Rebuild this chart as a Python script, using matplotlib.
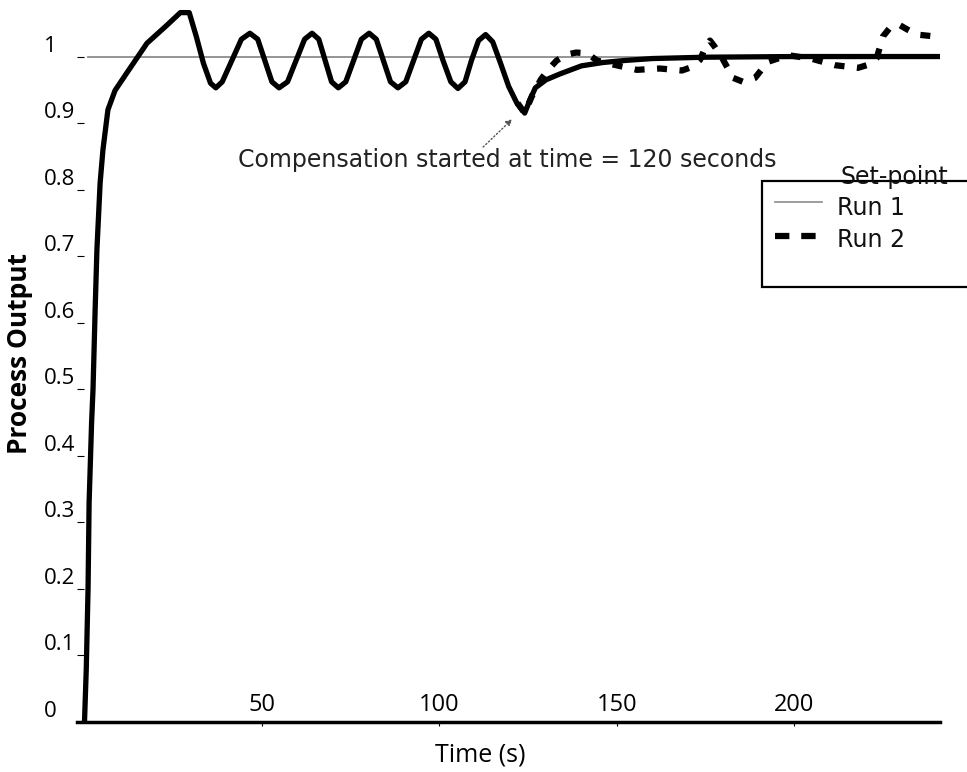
import numpy as np
import matplotlib.pyplot as plt
from matplotlib.lines import Line2D
from matplotlib.patches import Rectangle

# Run 1: uncompensated response, then compensation from t = 120 s
run1_t = [0, 0.5, 1.0, 1.3, 2.0, 2.4, 3.0, 3.5, 4.4, 5.2, 6.6, 8.6, 12.0, 17.6,
          23.2, 27.0, 29.5, 31.5, 33.5, 35.5, 37.0, 38.8, 41.5, 44.2, 46.6,
          48.8, 50.8, 52.8, 54.8, 57.2, 59.6, 62.0, 64.1, 66.0, 67.8, 69.6,
          71.5, 73.6, 75.8, 78.0, 80.2, 82.2, 84.2, 86.2, 88.3, 90.5, 92.7,
          94.9, 97.0, 99.0, 101.0, 103.2, 105.2, 107.2, 109.0, 111.0, 113.0,
          115.0, 117.2, 119.5, 121.8, 124.0, 125.5, 127.0, 130.0, 134.0,
          140.0, 146.0, 152.0, 160.0, 175.0, 200.0, 241.0]
run1_y = [0, 0.08, 0.20, 0.33, 0.45, 0.50, 0.62, 0.71, 0.81, 0.86, 0.92, 0.949,
          0.976, 1.020, 1.047, 1.066, 1.066, 1.030, 0.990, 0.960, 0.953, 0.962,
          0.994, 1.026, 1.035, 1.026, 0.994, 0.962, 0.953, 0.962, 0.994, 1.026,
          1.035, 1.026, 0.994, 0.962, 0.953, 0.962, 0.994, 1.026, 1.035, 1.026,
          0.994, 0.962, 0.953, 0.962, 0.994, 1.026, 1.035, 1.026, 0.994, 0.962,
          0.952, 0.962, 0.994, 1.024, 1.033, 1.022, 0.990, 0.955, 0.930, 0.915,
          0.935, 0.953, 0.965, 0.974, 0.986, 0.991, 0.994, 0.997, 0.999, 1.000,
          1.000]

# Run 2 only differs after compensation starts
run2_t = [122.0, 124.0, 126.0, 128.5, 130.6, 133.0, 135.9, 138.5, 141.5, 144.4,
          148.9, 155.6, 162.1, 168.3, 171.5, 173.4, 175.0, 176.2, 177.5, 179.6,
          182.7, 185.5, 188.9, 192.5, 198.2, 204.6, 211.4, 217.9, 221.0, 223.2,
          224.9, 227.0, 229.4, 232.0, 234.5, 239.9]
run2_y = [0.930, 0.915, 0.940, 0.965, 0.980, 0.994, 1.003, 1.006, 1.005, 0.994,
          0.988, 0.980, 0.982, 0.979, 0.985, 0.995, 1.015, 1.024, 1.015, 0.998,
          0.968, 0.962, 0.968, 0.992, 1.002, 0.997, 0.987, 0.983, 0.988, 0.998,
          1.030, 1.044, 1.048, 1.040, 1.033, 1.030]

setpoint = 1.0
comp_time = 120
y_ticks = [0, 0.1, 0.2, 0.3, 0.4, 0.5, 0.6, 0.7, 0.8, 0.9, 1.0]
y_tick_labels = ['0', '0.1', '0.2', '0.3', '0.4', '0.5', '0.6', '0.7', '0.8', '0.9', '1']
x_ticks = [50, 100, 150, 200]

W, H = 967, 772


def fx(px):
    return px / W


def fy(py):
    return 1 - py / H


def draw_legend(fig):
    """Hand-built legend box, clipped at the right edge like the scan"""
    fig.add_artist(Rectangle((fx(762), fy(287)), fx(260), fy(181) - fy(287),
                             transform=fig.transFigure, facecolor='white',
                             edgecolor='black', lw=1.6))
    fig.text(fx(840), fy(184), 'Set-point', fontsize=17, va='baseline',
             ha='left', color='#111')
    fig.add_artist(Line2D([fx(775), fx(822)], [fy(202), fy(202)],
                          transform=fig.transFigure, color='#8c8c8c', lw=1.2))
    fig.text(fx(837), fy(208), 'Run 1', fontsize=17, va='center', ha='left',
             color='#111')
    fig.add_artist(Line2D([fx(775), fx(818)], [fy(236), fy(236)],
                          transform=fig.transFigure, color='black', lw=4.5,
                          dashes=(2.3, 1.9)))
    fig.text(fx(837), fy(240), 'Run 2', fontsize=17, va='center', ha='left',
             color='#111')


fig = plt.figure(figsize=(W / 100, H / 100), dpi=100)
ax = fig.add_axes([fx(77.4), 50 / H, 862.6 / W, 718.7 / H])

ax.axhline(setpoint, xmin=0.012, color='#8c8c8c', lw=1.3, zorder=1)
ax.plot(run1_t, run1_y, color='black', lw=3.8, solid_joinstyle='round',
        solid_capstyle='round', zorder=3)
ax.plot(run2_t, run2_y, color='black', lw=4.5, dashes=(1.6, 2.0), zorder=2)

ax.text(119.0, 0.844, 'Compensation started at time = 120 seconds',
        fontsize=17, ha='center', va='center', color='#222')
ax.annotate('', xy=(comp_time + 0.5, 0.906), xytext=(112.3, 0.864),
            arrowprops=dict(arrowstyle='-|>', linestyle=':', lw=1.0,
                            color='#555', mutation_scale=9, shrinkA=0,
                            shrinkB=0))

ax.set_xlim(-2, 241)
ax.set_ylim(0, 1.08)
for side in ['top', 'right', 'left']:
    ax.spines[side].set_visible(False)
ax.spines['bottom'].set_linewidth(2.5)

ax.set_xticks(x_ticks)
ax.set_xticklabels([str(t) for t in x_ticks], fontfamily='Open Sans',
                   fontsize=17)
ax.tick_params(axis='x', direction='out', length=3, width=0.8, pad=-24)

ax.set_yticks(y_ticks)
ax.set_yticklabels(y_tick_labels, fontfamily='Open Sans', fontsize=16)
ax.tick_params(axis='y', direction='in', length=5, width=0.8, pad=24)
plt.setp(ax.get_yticklabels(), ha='left', va='bottom')

ax.set_xlabel('Time (s)', fontfamily='Open Sans', fontsize=18)
ax.xaxis.set_label_coords(0.467, -0.029)
ax.set_ylabel('Process Output', fontfamily='Open Sans', fontsize=19,
              fontweight='bold')
ax.yaxis.set_label_coords(-0.0515, 0.513)

draw_legend(fig)

fig.savefig('out.png', dpi=100)
